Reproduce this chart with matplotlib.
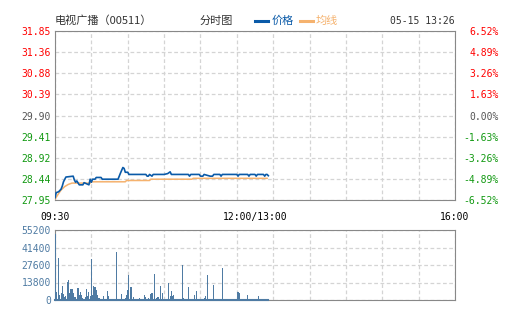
import matplotlib.pyplot as plt
from matplotlib.lines import Line2D

plt.rcParams['font.family'] = ['DejaVu Sans Mono', 'Noto Sans CJK SC']

# price line vertices (minute from 09:30, price)
price_min = [0, 1, 3, 5, 6, 7, 9, 15, 16, 17, 18, 20, 23, 24, 28, 29, 30, 31, 33, 34,
             38, 39, 52, 54, 56, 57, 58, 60, 61, 75, 76, 77, 78, 80, 81, 90, 93, 95, 96,
             110, 111, 112, 119, 120, 122, 123, 128, 130, 131, 136, 137, 138, 150, 151,
             152, 159, 160, 161, 165, 166, 167, 172, 173, 174, 175, 176]
price_val = [28.00, 28.12, 28.14, 28.20, 28.27, 28.37, 28.48, 28.50, 28.41, 28.36, 28.39,
             28.30, 28.30, 28.35, 28.30, 28.43, 28.36, 28.43, 28.43, 28.47, 28.47, 28.43,
             28.43, 28.57, 28.70, 28.68, 28.59, 28.59, 28.54, 28.54, 28.50, 28.50, 28.54,
             28.50, 28.54, 28.54, 28.56, 28.60, 28.54, 28.54, 28.50, 28.54, 28.54, 28.50,
             28.50, 28.54, 28.50, 28.50, 28.54, 28.54, 28.50, 28.54, 28.54, 28.50, 28.54,
             28.54, 28.50, 28.54, 28.54, 28.50, 28.54, 28.54, 28.50, 28.54, 28.54, 28.51]

# average price vertices
avg_min = [0, 3, 5, 8, 11, 14, 29, 30, 58, 59, 78, 79, 113, 114, 175]
avg_val = [27.97, 28.10, 28.18, 28.26, 28.31, 28.34, 28.34, 28.37, 28.37, 28.40,
           28.40, 28.43, 28.43, 28.45, 28.45]

# volume per minute
vol_min = [0, 1, 3, 4, 5, 6, 7, 8, 9, 10, 11, 12, 13, 14, 15, 16, 17, 19, 20, 21, 22,
           23, 24, 25, 26, 27, 28, 29, 30, 31, 32, 33, 34, 35, 36, 37, 38, 40, 41, 43,
           44, 51, 55, 58, 59, 60, 61, 62, 63, 65, 66, 70, 71, 74, 75, 77, 79, 80, 82,
           84, 85, 87, 89, 94, 95, 96, 97, 98, 105, 106, 110, 115, 117, 118, 123, 124,
           126, 127, 131, 136, 138, 150, 151, 152, 153, 159, 160, 164, 168]
vol_val = [52000, 6600, 32900, 3900, 5300, 11000, 4500, 2600, 3200, 14500, 15800, 5300,
           8700, 8700, 5300, 2600, 2600, 9200, 3900, 6600, 3900, 1300, 800, 2600, 8700,
           3400, 6600, 3400, 32300, 3900, 11000, 10500, 7900, 3900, 1300, 1300, 800,
           3200, 800, 7000, 3400, 38100, 4700, 1300, 3900, 7900, 19700, 10500, 10500,
           2600, 800, 1300, 800, 3900, 2600, 1300, 4700, 5300, 20200, 1300, 2600, 11000,
           5300, 13700, 3400, 7000, 3000, 3900, 27600, 1300, 10200, 3900, 7000, 800,
           1300, 3400, 19700, 800, 11800, 800, 25500, 800, 6600, 5500, 800, 3900, 800,
           800, 3400]

price_ticks = [27.95, 28.44, 28.92, 29.41, 29.90, 30.39, 30.88, 31.36, 31.85]
pct_labels = ['-6.52%', '-4.89%', '-3.26%', '-1.63%', '0.00%', '1.63%', '3.26%', '4.89%', '6.52%']
vol_ticks = [0, 13800, 27600, 41400, 55200]
time_labels = ['09:30', '12:00/13:00', '16:00']

RED = '#ff0000'
GREEN = '#119911'
GRAY = '#555555'
BLUE = '#0a5aa8'
ORANGE = '#f5b26e'
BAR = '#4f7ba3'
FRAME = '#888888'
GRID = '#d4d4d4'

fig = plt.figure(figsize=(5.05, 3.30), dpi=100)
fig.patch.set_facecolor('white')

ax = fig.add_axes([55 / 505, 130 / 330, 400 / 505, 169 / 330])
ax.plot(avg_min, avg_val, color=ORANGE, lw=1.1, zorder=3)
ax.plot(price_min, price_val, color=BLUE, lw=1.2, zorder=4)
ax.set_xlim(0, 330)
ax.set_ylim(price_ticks[0], price_ticks[-1])
ax.set_xticks(range(0, 331, 30))
ax.set_xticklabels([])
ax.set_yticks(price_ticks)
ax.set_yticklabels(['%.2f' % v for v in price_ticks], fontsize=7)
for lab, v in zip(ax.get_yticklabels(), price_ticks):
    lab.set_color(RED if v > 29.9 else (GREEN if v < 29.9 else GRAY))
ax.tick_params(length=0, pad=3)
ax.grid(True, color=GRID, ls=(0, (3, 2)), lw=0.9)
for s in ax.spines.values():
    s.set_color(FRAME)

ax2 = ax.twinx()
ax2.set_ylim(ax.get_ylim())
ax2.set_yticks(price_ticks)
ax2.set_yticklabels(pct_labels, fontsize=7, ha='right')
for lab, t in zip(ax2.get_yticklabels(), pct_labels):
    lab.set_color(GREEN if t.startswith('-') else (GRAY if t == '0.00%' else RED))
ax2.tick_params(length=0, pad=31.5)
for s in ax2.spines.values():
    s.set_visible(False)

for x, t in zip([0, 165, 330], time_labels):
    ax.text(x, -0.1, t, transform=ax.get_xaxis_transform(), ha='center', va='center',
            fontsize=7, color='black')

vax = fig.add_axes([55 / 505, 30 / 330, 400 / 505, 70 / 330])
vax.bar(vol_min, vol_val, width=0.9, color=BAR, zorder=3)
vax.plot([vol_min[0], price_min[-1]], [0, 0], color=BAR, lw=1.5, zorder=4, clip_on=False)
vax.set_xlim(0, 330)
vax.set_ylim(vol_ticks[0], vol_ticks[-1])
vax.set_xticks(range(0, 331, 30))
vax.set_xticklabels([])
vax.set_yticks(vol_ticks)
vax.set_yticklabels([str(v) for v in vol_ticks], fontsize=7, color=BAR)
vax.tick_params(length=0, pad=3)
vax.grid(True, color=GRID, ls=(0, (3, 2)), lw=0.9)
for s in vax.spines.values():
    s.set_color(FRAME)

# header row
ty = 1 - 21 / 330
fig.text(55 / 505, ty, '电视广播（00511）', fontsize=8, color='#333333', va='center',
         family=['Noto Sans CJK SC', 'DejaVu Sans'])
fig.text(200 / 505, ty, '分时图', fontsize=8, color='#333333', va='center',
         family=['Noto Sans CJK SC'])
fig.add_artist(Line2D([255 / 505, 268 / 505], [ty, ty], color=BLUE, lw=2.2))
fig.text(272 / 505, ty, '价格', fontsize=8, color=BLUE, va='center',
         family=['Noto Sans CJK SC'])
fig.add_artist(Line2D([300 / 505, 313 / 505], [ty, ty], color=ORANGE, lw=2.2))
fig.text(316 / 505, ty, '均线', fontsize=8, color=ORANGE, va='center',
         family=['Noto Sans CJK SC'])
fig.text(455 / 505, ty, '05-15 13:26', fontsize=7, color='#333333', va='center', ha='right')

fig.savefig('out.png', dpi=100)
